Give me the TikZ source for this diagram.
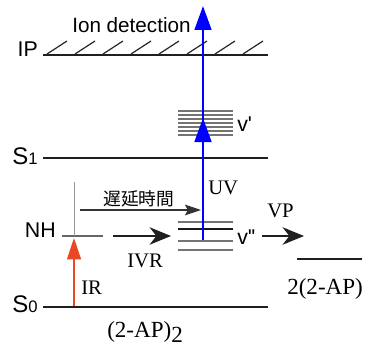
\documentclass[tikz,border=0pt]{standalone}
\usepackage{fontspec}
\setmainfont{Liberation Serif}
\setsansfont{Liberation Sans}
\newfontfamily\jpfont{Noto Sans CJK JP}
\usepackage{tikz}
\usetikzlibrary{arrows.meta}
\definecolor{irred}{RGB}{232,72,36}
\tikzset{
  level/.style={line width=1.9pt,black!88},
  vib/.style={line width=1pt,black!55},
  hatch/.style={line width=0.9pt,black!85},
  lbl/.style={inner sep=0pt,anchor=base west},
  rlbl/.style={inner sep=0pt,anchor=base east},
  uvarrow/.style={line width=2pt,blue,-{Triangle[length=18pt,width=12.5pt]}},
  bigarrow/.style={line width=2pt,black!88,-{Stealth[length=16pt,width=13pt,inset=5pt]}},
  delayarrow/.style={line width=0.8pt,black!80,-{Stealth[length=12pt,width=8pt,inset=2pt]}},
  irarrow/.style={line width=1.1pt,irred,-{Triangle[length=16pt,width=10.5pt]}}
}
\newcommand{\sflbl}[1]{\fontsize{16}{18}\selectfont\sffamily #1}
\newcommand{\rmlbl}[1]{\fontsize{15.5}{18}\selectfont #1}
\begin{document}
\begin{tikzpicture}[x=0.75pt,y=-0.75pt]
    \useasboundingbox(0,0)rectangle(375,346);
    % energy levels
    \draw[level](43,55)--(268,55);\foreach\i in{47,75,...,243}{\draw[hatch](\i,54)--(\i+20,41);};
    \draw[level](43,158)--(268,158);
    \draw[level](43,307)--(268,307);
    \draw[level](297,259)--(362,259);
    \draw[line width=1pt,black!60](62,236)--(103,236);\draw[line width=0.6pt,black!40](74,182)--(74,236);
    \foreach\j in{111,115,...,135}{\draw[vib](178,\j)--(233,\j);};
    \foreach\j in{222,241,250}{\draw[vib](178,\j)--(233,\j);};\draw[line width=1.1pt,black!90](178,229)--(233,229);

    % labels
    \node[rlbl](iplbl)at(38,57){\sflbl{IP}};
    \node[lbl](ion)at(72,33){\fontsize{15.5}{18}\selectfont\sffamily Ion detection};
    \node[rlbl](s1lbl)at(38,164){\fontsize{18}{20}\selectfont\sffamily S\fontsize{12.5}{14}\selectfont 1};
    \node[rlbl](s0lbl)at(38,312){\fontsize{18}{20}\selectfont\sffamily S\fontsize{12.5}{14}\selectfont 0};
    \node[rlbl](nhlbl)at(56,237){\sflbl{NH}};
    \node[lbl](vlbl)at(237,132){\sflbl{v\textquotesingle}};
    \node[lbl](vvlbl)at(237,244){\sflbl{v\textquotesingle\kern-0.5pt\textquotesingle}};
    \node[lbl](delay)at(103,205){\fontsize{13.3}{15}\selectfont\jpfont 遅延時間};
    \node[lbl](uv)at(208,194){\rmlbl{UV}};
    \node[lbl](vp)at(267,217){\rmlbl{VP}};
    \node[lbl](ivr)at(127,267){\rmlbl{IVR}};
    \node[lbl](ir)at(81,294){\rmlbl{IR}};
    \node[lbl](mono)at(287,294){\fontsize{17.3}{19}\selectfont 2(2-AP)};
    \node[lbl](dimer)at(107,337){\fontsize{17.3}{19}\selectfont (2-AP)\raisebox{-4pt}{2}};

    % transitions
    \coordinate(irbot)at(74,306);\coordinate(irtop)at(74,238);
    \coordinate(uvbot)at(203,240);\coordinate(uvmid)at(203,118);
    \coordinate(ionbot)at(203,134);\coordinate(iontop)at(203,6);
    \coordinate(dlstart)at(80,210);\coordinate(dlend)at(201,210);
    \coordinate(ivrstart)at(113,236);\coordinate(ivrend)at(171,236);
    \coordinate(vpstart)at(262,236);\coordinate(vpend)at(304,236);
    \draw[irarrow](irbot)--(irtop);
    \draw[uvarrow](uvbot)--(uvmid);\draw[uvarrow](ionbot)--(iontop);
    \draw[delayarrow](dlstart)--(dlend);
    \draw[bigarrow](ivrstart)--(ivrend);\draw[bigarrow](vpstart)--(vpend);
\end{tikzpicture}
\end{document}
